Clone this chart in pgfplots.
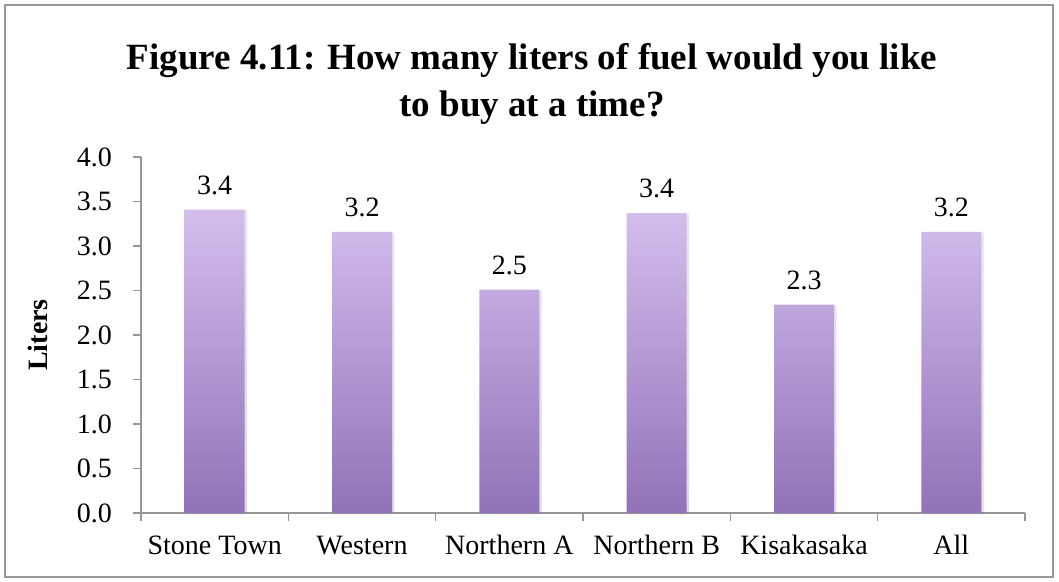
\documentclass[border=0pt]{standalone}
\usepackage{pgfplots}
\pgfplotsset{compat=1.18}
\usepackage{fontspec}
\setmainfont{Liberation Serif}
\usetikzlibrary{shadows}
\definecolor{bartop}{RGB}{212,190,238}
\definecolor{barbot}{RGB}{146,114,184}
\definecolor{axgray}{RGB}{150,150,150}
\begin{document}
\begin{tikzpicture}
\path[use as bounding box] (0,0) rectangle (529.5pt,291pt);
\draw[axgray, line width=0.8pt] (2.5pt,2.5pt) rectangle (526.5pt,288.5pt);
\node[font=\fontsize{18.5}{23.5}\selectfont\bfseries, align=center] at (266pt,249pt)
  {Figure 4.11: How many liters of fuel would you like\\to buy at a time?};
\begin{axis}[
  at={(70.5pt,34.5pt)}, anchor=south west,
  scale only axis, width=442pt, height=178pt,
  xmin=-0.5, xmax=5.5, ymin=0, ymax=4,
  axis lines*=left,
  axis line style={axgray, line width=0.8pt},
  every tick/.style={axgray, line width=0.8pt},
  tick align=outside, major tick length=4pt,
  ytick={0,0.5,...,4},
  /pgf/number format/assume math mode=true,
  /pgf/number format/fixed, /pgf/number format/fixed zerofill, /pgf/number format/precision=1,
  tick label style={font=\fontsize{14}{16}\selectfont},
  y tick label style={xshift=-7pt},
  xtick={-0.5,0.5,...,5.5},
  xticklabels={},
  extra x ticks={0,1,2,3,4,5},
  extra x tick labels={Stone Town, Western, Northern A, Northern B, Kisakasaka, All},
  extra x tick style={major tick length=0pt, tick label style={yshift=-7pt, text height=10pt, text depth=3pt}},
  ylabel={Liters},
  ylabel style={at={(axis description cs:-0.1165,0.5)}, anchor=center, font=\fontsize{14}{16}\selectfont\bfseries},
  nodes near coords,
  nodes near coords style={font=\fontsize{14}{16}\selectfont, yshift=4pt},
  clip=false,
]
\addplot[ybar, bar width=30pt, draw=none, top color=bartop, bottom color=barbot,
  drop shadow={opacity=0.15, shadow xshift=1.2pt, shadow yshift=-0.6pt}]
  coordinates {(0,3.41) (1,3.16) (2,2.51) (3,3.37) (4,2.34) (5,3.16)};
\end{axis}
\end{tikzpicture}
\end{document}
